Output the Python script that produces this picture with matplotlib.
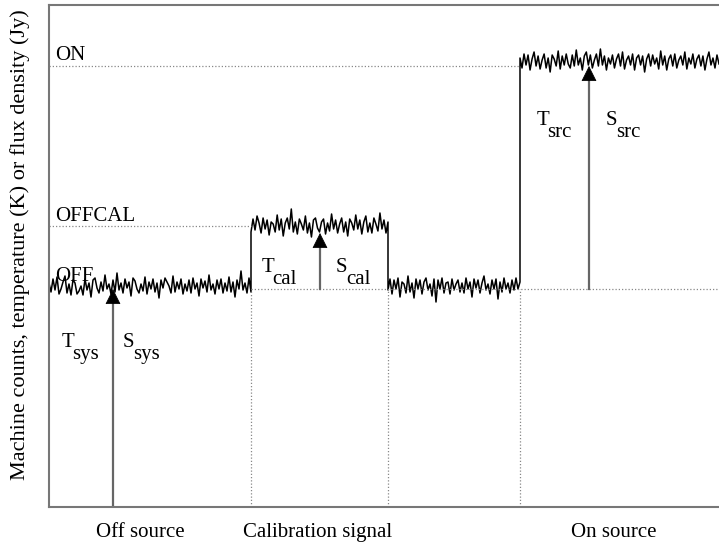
import numpy as np
import matplotlib.pyplot as plt

plt.rcParams['font.family'] = ['Liberation Serif', 'DejaVu Serif']

# segment edges along the time axis and the mean level of each segment
edges = [0, 202, 339, 471, 670]
levels = [221, 281, 221, 445]
# reference levels (dotted lines)
off_level = 218
offcal_level = 281
on_level = 441

# noise (one value per ~2 px)
noise_off = [3, -6, 7, -4, 9, -8, -3, 4, 10, -7, 2, -9, 6, 3, -8, -5, 0, -9, 7, -4,
             3, -11, 6, 8, -2, -7, 4, -5, 11, -3, 2, -8, 6, -6, 13, -4, 3, -7, 7, -2,
             4, -10, 8, 5, -3, -7, 2, -5, 9, -8, 4, -3, 7, -6, 3, -12, 6, -2, 8, 4,
             0, -7, 10, -6, 4, -3, 7, -8, 2, -5, 6, -7, 8, -3, 3, -10, 7, -2, 5, -6,
             11, -4, 2, -8, 6, -3, 7, -7, 3, -5, 9, -6, 4, -11, 6, -3, 15, -4, 3, -7,
             8, -6]
noise_cal = [-6, 7, -4, 10, 3, -7, 8, -3, 6, -9, 4, 2, -6, 11, -4, 7, -10, 3, 8, -3,
             17, -6, 4, -8, 7, 2, -4, 10, -7, 3, -11, 6, 8, -2, -6, 4, 7, -8, 3, -5,
             12, -3, 6, -7, 2, 8, -6, 4, -10, 7, 3, -4, 11, -3, 6, -8, 4, 10, -6, 3,
             -7, 8, 2, -5, 13, -3, 6, -7, 4]
noise_off2 = [-4, 7, -8, 6, -3, 8, -11, 4, 2, -7, 10, -6, 3, -12, 7, -3, 6, -8, 4, 8,
              -4, 2, -10, 7, -16, 6, -3, 8, -7, 3, 4, -8, 7, -4, 2, 6, -6, 3, -7, 8,
              -3, 4, -11, 7, -2, 6, -7, 3, 10, -4, 2, -8, 6, -3, 7, -13, 4, -6, 8, -3,
              3, -7, 6, -4, 8, -3, 4]
noise_on = [4, -6, 8, -3, 7, -8, 3, 10, -4, 6, -7, 2, 8, -6, 4, -10, 7, 3, -4, 11,
            -7, 6, -3, 8, -2, -6, 7, -4, 12, -3, 4, -8, 6, 10, -3, 7, -6, 2, 8, -4,
            13, -3, 6, -8, 4, -2, 7, -6, 3, 8, -4, 10, -7, 2, 6, -3, 8, -8, 4, 7,
            -3, 6, -10, 3, 8, -4, 7, -2, 4, -7, 11, -3, 6, -8, 3, 7, -4, 8, -6, 2,
            6, -3, 10, -7, 4, -2, 8, -6, 3, 7, -4, 6, -8, 3, 10, -3, 4, -6, 7, -2]
noise = [noise_off, noise_cal, noise_off2, noise_on]

region_names = ['Off source', 'Calibration signal', 'On source']
region_centres = [91, 269, 565]

fig = plt.figure(figsize=(7.19, 5.43), dpi=100)
ax = fig.add_axes([49 / 719, 36 / 543, 670 / 719, 502 / 543])
ax.set_xlim(0, 670)
ax.set_ylim(0, 502)

# the trace
xs, ys = [], []
for i in range(4):
    n = len(noise[i])
    xs.append(np.linspace(edges[i], edges[i + 1], n))
    ys.append(levels[i] + np.array(noise[i]))
ax.plot(np.concatenate(xs), np.concatenate(ys), color='black', lw=1.1)

# dotted reference lines
dot = dict(color='#888888', lw=0.9, ls=(0, (1, 1.6)))
ax.plot([0, edges[3]], [on_level, on_level], **dot)
ax.plot([0, edges[1]], [offcal_level, offcal_level], **dot)
ax.plot([edges[1], 668], [off_level, off_level], **dot)
for e in edges[1:4]:
    ax.plot([e, e], [0, off_level], **dot)

# arrows: grey shaft, black head
arrows = [(64, 0, off_level), (271, off_level, offcal_level - 7), (540, off_level, on_level)]
hprops = dict(arrowstyle='-|>,head_length=0.5,head_width=0.25', fc='black',
              ec='black', lw=0.5, mutation_scale=20, shrinkA=0, shrinkB=0)
for x, y0, y1 in arrows:
    ax.plot([x, x], [y0, y1 - 12], color='#666666', lw=1.6)
    ax.annotate('', xy=(x, y1), xytext=(x, y1 - 14), arrowprops=hprops)

# level labels
fs = 15
ax.text(6, 447, 'ON', fontsize=fs)
ax.text(6, 286, 'OFFCAL', fontsize=fs)
ax.text(6, 226, 'OFF', fontsize=fs)

# T and S labels with subscripts
def sublabel(x, y, main, sub):
    ax.text(x, y, main, fontsize=fs)
    ax.text(x + 10, y - 12, sub, fontsize=fs)

sublabel(13, 160, 'T', 'sys')
sublabel(74, 160, 'S', 'sys')
sublabel(213, 235, 'T', 'cal')
sublabel(287, 235, 'S', 'cal')
sublabel(488, 382, 'T', 'src')
sublabel(557, 382, 'S', 'src')

for name, c in zip(region_names, region_centres):
    ax.text(c, -30, name, fontsize=15, ha='center', clip_on=False)

fig.text(20 / 719, 1 - 245 / 543, 'Machine counts, temperature (K) or flux density (Jy)',
         rotation=90, ha='center', va='center', fontsize=16)

ax.set_xticks([])
ax.set_yticks([])
for s in ['left', 'top', 'bottom']:
    ax.spines[s].set_color('#777777')
    ax.spines[s].set_linewidth(1.5)
ax.spines['right'].set_visible(False)

fig.savefig('out.png', dpi=100)
